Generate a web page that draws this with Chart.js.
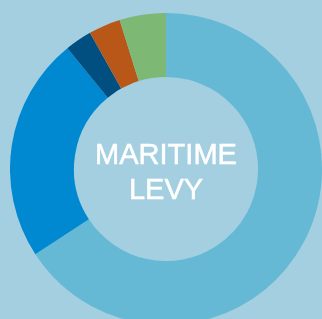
<!DOCTYPE html>
<html>
<head>
<meta charset="utf-8">
<script src="https://cdn.jsdelivr.net/npm/chart.js@4"></script>
<style>
  html, body { margin: 0; padding: 0; width: 322px; height: 319px; overflow: hidden; background: #a3cfe0; }
  #wrap { position: absolute; left: 10px; top: 13px; width: 312px; height: 312px; }
  #label { position: absolute; left: 66px; top: 137px; width: 200px; text-align: center;
           color: #ffffff; font-family: "Liberation Sans", Arial, sans-serif; font-size: 29px; line-height: 35px;
           -webkit-text-stroke: 0.5px #ffffff; }
</style>
</head>
<body>
<div id="wrap"><canvas id="c"></canvas></div>
<div id="label">MARITIME<br>LEVY</div>
<script>
const categories = ["Segment A", "Segment B", "Segment C", "Segment D", "Segment E"];
const values = [65.8, 23.3, 2.8, 3.3, 4.8];
const colors = ["#65b9d4", "#0089d0", "#004f80", "#b85717", "#7db874"];

new Chart(document.getElementById("c"), {
  type: "doughnut",
  data: {
    labels: categories,
    datasets: [{ data: values, backgroundColor: colors, borderWidth: 0 }]
  },
  options: {
    responsive: true,
    maintainAspectRatio: false,
    animation: false,
    cutout: "59%",
    layout: { padding: 0 },
    plugins: { legend: { display: false }, tooltip: { enabled: false } }
  }
});
</script>
</body>
</html>
